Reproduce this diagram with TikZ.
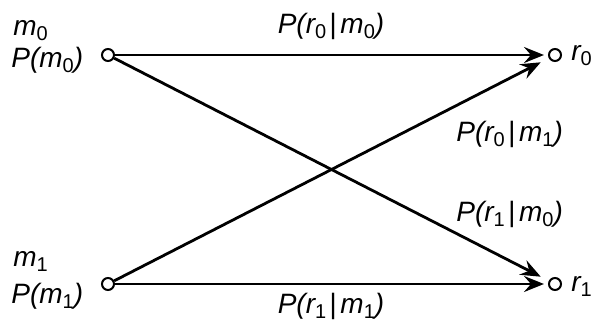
\documentclass[tikz,border=0pt]{standalone}
\usepackage{fontspec}
\setmainfont{Liberation Sans}
\usetikzlibrary{arrows.meta}
\newcommand{\sbs}[1]{\raisebox{-2.8pt}{\fontsize{10}{10}\selectfont\upshape #1}}
\newcommand{\gvn}{\hspace{1.5pt}|\hspace{2pt}}
\begin{document}
\begin{tikzpicture}[x=0.5pt,y=-0.5pt,
    port/.style={circle, draw, line width=1pt, fill=white, inner sep=0pt, minimum size=6pt},
    link/.style={line width=1.4pt, -{Stealth[length=10pt,width=8pt,inset=3.5pt]}},
    lbl/.style={font=\fontsize{14}{16}\selectfont\itshape, inner sep=0pt}]
  \useasboundingbox (0,0) rectangle (591,322);
  % Positions x
  \def\xl{108} \def\xr{555}
  % Positions y
  \def\yt{55} \def\yb{284}
  % Symboles et sorties
  \node[port] (m0) at (\xl,\yt) {};
  \node[port] (m1) at (\xl,\yb) {};
  \node[port] (r0) at (\xr,\yt) {};
  \node[port] (r1) at (\xr,\yb) {};
  % Transitions
  \draw[link, shorten >=2pt] (m0) -- (r0);
  \draw[link, shorten >=2pt] (m1) -- (r1);
  \draw[link, shorten >=4.5pt] (m0) -- (r1);
  \draw[link, shorten >=4.5pt] (m1) -- (r0);
  % Étiquettes des entrées
  \node[lbl, anchor=base west] (m0name) at (13,35) {m\sbs{0}};
  \node[lbl, anchor=base west] (m0prob) at (11,67) {P(m\sbs{0})};
  \node[lbl, anchor=base west] (m1name) at (13,266) {m\sbs{1}};
  \node[lbl, anchor=base west] (m1prob) at (11,303) {P(m\sbs{1})};
  % Étiquettes des sorties
  \node[lbl, anchor=base west] (r0name) at (571,60) {r\sbs{0}};
  \node[lbl, anchor=base west] (r1name) at (571,291) {r\sbs{1}};
  % Probabilités de transition
  \node[lbl, anchor=base] (p00) at (331,33) {P(r\sbs{0}\gvn m\sbs{0})};
  \node[lbl, anchor=base] (p11) at (331,313) {P(r\sbs{1}\gvn m\sbs{1})};
  \node[lbl, anchor=base west] (p01) at (456,141) {P(r\sbs{0}\gvn m\sbs{1})};
  \node[lbl, anchor=base west] (p10) at (456,221) {P(r\sbs{1}\gvn m\sbs{0})};
\end{tikzpicture}
\end{document}
